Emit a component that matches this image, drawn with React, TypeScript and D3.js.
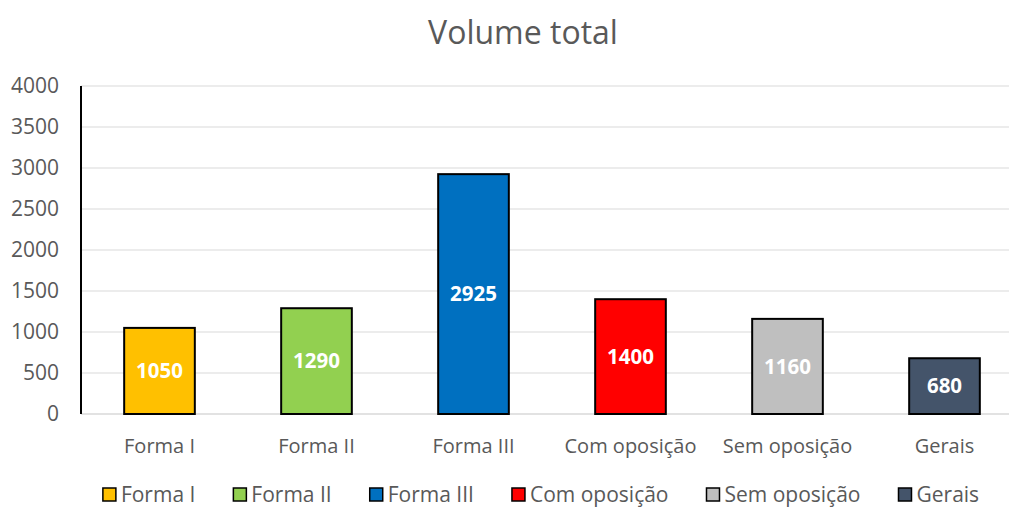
import React, { useEffect, useRef } from "react";
import * as d3 from "d3";

const categories = ["Forma I", "Forma II", "Forma III", "Com oposição", "Sem oposição", "Gerais"];
const values = [1050, 1290, 2925, 1400, 1160, 680];
const colors = ["#FFC000", "#92D050", "#0070C0", "#FF0000", "#BFBFBF", "#44546A"];
const yTicks = [0, 500, 1000, 1500, 2000, 2500, 3000, 3500, 4000];
const title = "Volume total";

const W = 1009;
const H = 509;
const FONT = "'Open Sans', 'Noto Sans', sans-serif";

export default function App() {
  const ref = useRef<SVGSVGElement>(null);

  useEffect(() => {
    const svg = d3.select(ref.current);
    svg.selectAll("*").remove();

    const left = 81;
    const right = 1023;
    const top = 86;
    const bottom = 414;

    const x = d3.scaleBand<string>().domain(categories).range([left, right]).paddingInner(0.55).paddingOuter(0.275);
    const y = d3.scaleLinear().domain([0, 4000]).range([bottom, top]);

    // title
    svg.append("text")
      .attr("x", 523).attr("y", 33)
      .attr("dy", "0.35em")
      .attr("text-anchor", "middle")
      .attr("font-family", FONT).attr("font-size", 32)
      .attr("fill", "#595959")
      .text(title);

    // gridlines
    svg.append("g").selectAll("line").data(yTicks.filter(t => t > 0)).join("line")
      .attr("x1", left).attr("x2", right)
      .attr("y1", d => y(d)).attr("y2", d => y(d))
      .attr("stroke", "#D9D9D9").attr("stroke-width", 1);

    // bottom axis line
    svg.append("line")
      .attr("x1", left).attr("x2", right)
      .attr("y1", y(0)).attr("y2", y(0))
      .attr("stroke", "#D9D9D9").attr("stroke-width", 1.5);

    // y tick labels
    svg.append("g").selectAll("text").data(yTicks).join("text")
      .attr("x", 59).attr("y", d => y(d))
      .attr("dy", "0.35em")
      .attr("text-anchor", "end")
      .attr("font-family", FONT).attr("font-size", 21)
      .attr("fill", "#595959")
      .text(d => String(d));

    // bars
    const bars = svg.append("g");
    bars.selectAll("rect").data(values).join("rect")
      .attr("x", (_, i) => x(categories[i])!)
      .attr("width", x.bandwidth())
      .attr("y", d => y(d))
      .attr("height", d => y(0) - y(d))
      .attr("fill", (_, i) => colors[i])
      .attr("stroke", "#000").attr("stroke-width", 2);

    // data labels
    svg.append("g").selectAll("text").data(values).join("text")
      .attr("x", (_, i) => x(categories[i])! + x.bandwidth() / 2)
      .attr("y", d => (y(d) + y(0)) / 2)
      .attr("dy", "0.35em")
      .attr("text-anchor", "middle")
      .attr("font-family", FONT).attr("font-weight", "bold").attr("font-size", 20.5)
      .attr("fill", "#FFFFFF")
      .text(d => String(d));

    // y axis line
    svg.append("line")
      .attr("x1", left).attr("x2", left)
      .attr("y1", top).attr("y2", bottom)
      .attr("stroke", "#000").attr("stroke-width", 2);

    // category labels
    svg.append("g").selectAll("text").data(categories).join("text")
      .attr("x", d => x(d)! + x.bandwidth() / 2)
      .attr("y", 446)
      .attr("dy", "0.35em")
      .attr("text-anchor", "middle")
      .attr("font-family", FONT).attr("font-size", 20)
      .attr("fill", "#595959")
      .text(d => d);

    // legend
    const lg = svg.append("g");
    const items = categories.map((c, i) => {
      const g = lg.append("g");
      g.append("rect").attr("x", 0).attr("y", -7).attr("width", 13).attr("height", 13)
        .attr("fill", colors[i]).attr("stroke", "#000").attr("stroke-width", 1.5);
      const t = g.append("text").attr("x", 18).attr("y", 0).attr("dy", "0.35em")
        .attr("font-family", FONT).attr("font-size", 21).attr("fill", "#595959").text(c);
      const w = 18 + (t.node() as SVGTextElement).getComputedTextLength();
      return { g, w };
    });
    const gap = 38;
    const total = d3.sum(items, d => d.w) + gap * (items.length - 1);
    let cx = 541 - total / 2;
    items.forEach(it => {
      it.g.attr("transform", `translate(${cx},${495})`);
      cx += it.w + gap;
    });
  }, []);

  return (
    <svg ref={ref} width={W} height={H} style={{ position: "absolute", left: 0, top: 0, background: "#fff" }} />
  );
}
